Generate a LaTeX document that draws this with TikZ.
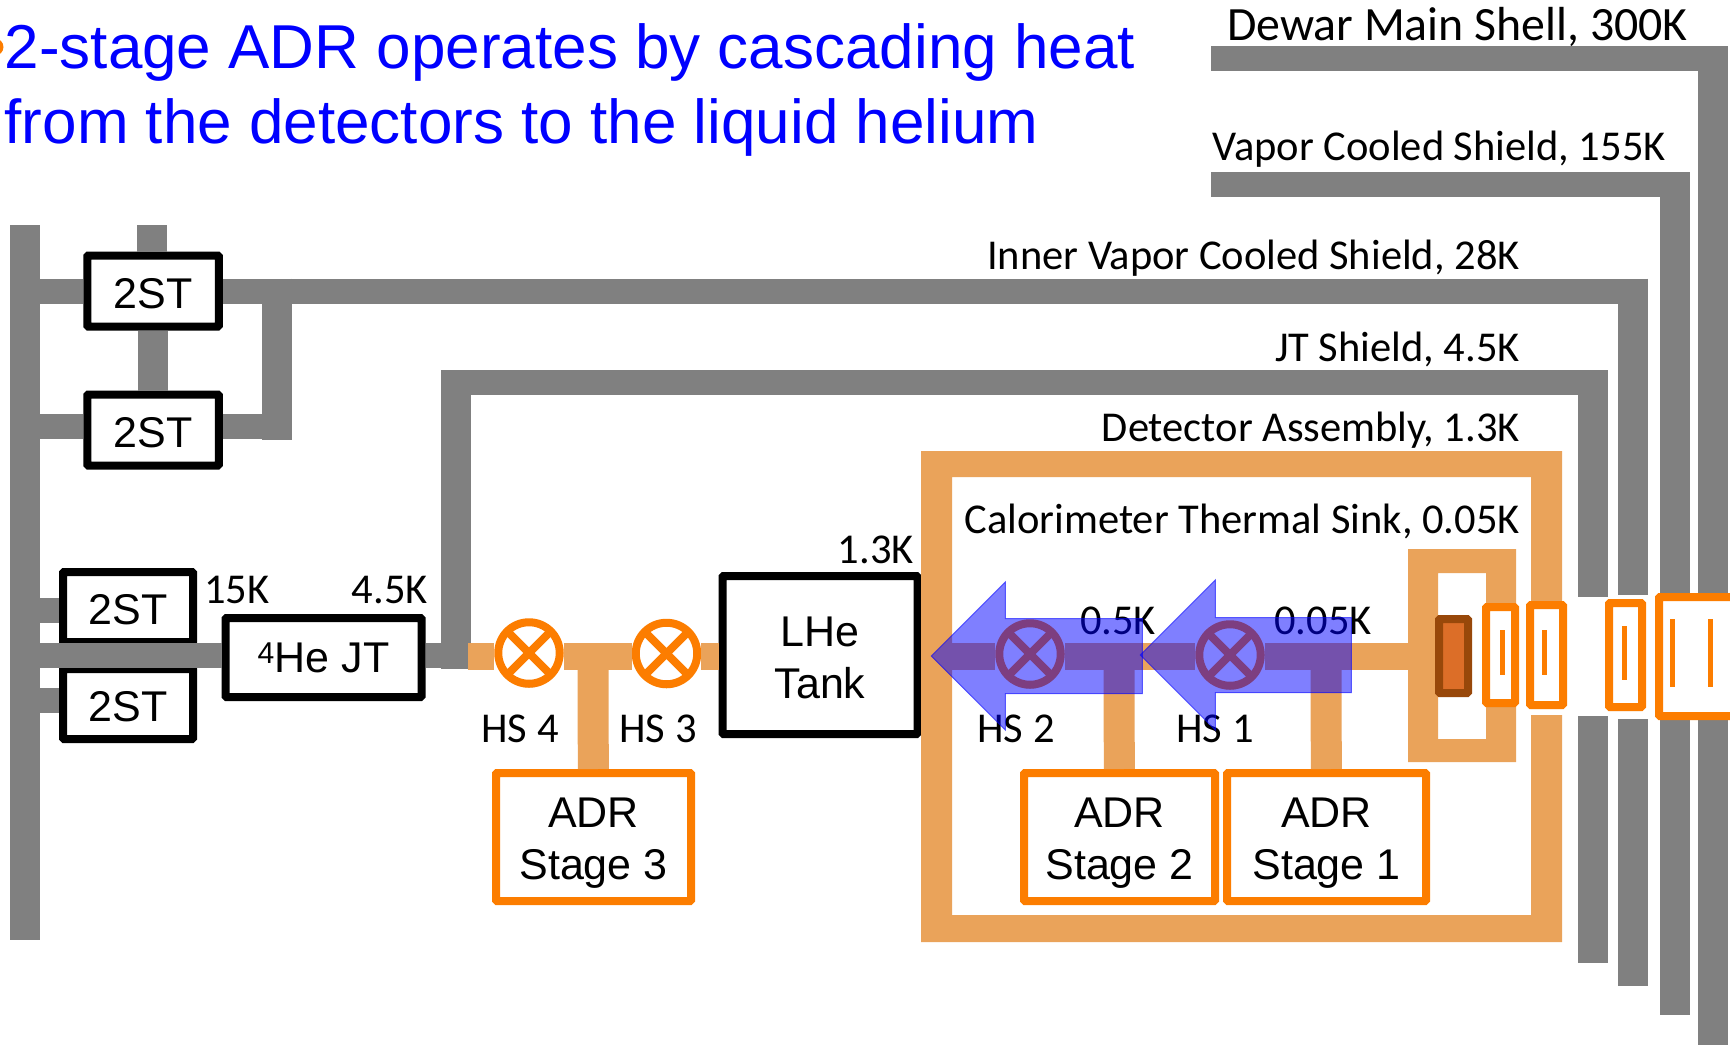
\documentclass[tikz,border=0pt]{standalone}
\usepackage{fontspec}
\setmainfont{Carlito}
\newfontfamily\arialfont{Liberation Sans}
\usetikzlibrary{shapes.arrows,shadows}
\definecolor{pipegray}{HTML}{808080}
\definecolor{pipeorange}{HTML}{EAA35A}
\definecolor{boxorange}{HTML}{FC7D00}
\definecolor{heatblue}{HTML}{0000FF}
\definecolor{chipfill}{HTML}{DC6E28}
\definecolor{chipline}{HTML}{98480A}
\newcommand{\labelstrut}[1]{\rule{0pt}{#1pt}}
\tikzset{
    hpipe/.style={draw=pipegray,line width=25pt},
    vpipe/.style={draw=pipegray,line width=30pt},
    hcopper/.style={draw=pipeorange,line width=26.5pt},
    vcopper/.style={draw=pipeorange,line width=31pt},
    blackbox/.style={draw=black,fill=white,line width=8pt,rounded corners=1pt,inner sep=0pt,
        font=\arialfont\fontsize{43}{52}\selectfont,align=center},
    adrbox/.style={draw=boxorange,fill=white,line width=8pt,rounded corners=1pt,inner sep=0pt,
        minimum height=128pt,font=\arialfont\fontsize{43}{52}\selectfont,align=center},
    valve/.style={draw=boxorange,fill=white,circle,line width=8pt,minimum size=61.5pt,inner sep=0pt,
        drop shadow={shadow xshift=0pt,shadow yshift=-4pt,opacity=.25},
        path picture={
            \draw[boxorange,line width=8pt] (path picture bounding box.north west) -- (path picture bounding box.south east);
            \draw[boxorange,line width=8pt] (path picture bounding box.north east) -- (path picture bounding box.south west);
        }},
    windowbox/.style={draw=boxorange,fill=white,line width=8pt,rounded corners=1pt,inner sep=0pt,
        drop shadow={shadow xshift=0pt,shadow yshift=-4pt,opacity=.2}},
    bolt/.style={draw=boxorange,line width=5pt},
    heat/.style={single arrow,shape border rotate=180,single arrow tip angle=90,inner sep=0pt,
        text height=74pt,text depth=0pt,
        fill=heatblue,fill opacity=.5,draw=heatblue,draw opacity=.6,line width=1pt},
    lab/.style={font=\fontsize{42.5}{50}\selectfont,inner sep=0pt},
}
\begin{document}
\begin{tikzpicture}[x=1pt,y=-1pt]
    \path[use as bounding box,clip] (0,0) rectangle (1730,1045);
    % heading
    \node (bullet) [circle,fill=boxorange,inner sep=0pt,minimum size=17pt] at (-5,47) {};
    \node (title) [anchor=base west,align=left,inner sep=0pt,text=heatblue,
        font=\arialfont\fontsize{62}{75}\selectfont] at (4.5,143)
        {2-stage ADR operates by cascading heat\\from the detectors to the liquid helium};
    % shields
    \coordinate (dewarA) at (1211,58);
    \coordinate (dewarB) at (1728,58);
    \coordinate (dewarC) at (1712.5,46);
    \coordinate (dewarD) at (1712.5,600);
    \coordinate (dewarE) at (1712.5,716);
    \coordinate (dewarF) at (1712.5,1045);
    \draw[hpipe] (dewarA) -- (dewarB);
    \draw[vpipe] (dewarC) -- (dewarD);
    \draw[vpipe] (dewarE) -- (dewarF);
    \coordinate (vcsA) at (1211,184.5);
    \coordinate (vcsB) at (1689,184.5);
    \coordinate (vcsC) at (1674.5,172);
    \coordinate (vcsD) at (1674.5,600);
    \coordinate (vcsE) at (1674.5,716);
    \coordinate (vcsF) at (1674.5,1015);
    \draw[hpipe] (vcsA) -- (vcsB);
    \draw[vpipe] (vcsC) -- (vcsD);
    \draw[vpipe] (vcsE) -- (vcsF);
    \coordinate (ivcsB) at (1648,291);
    \coordinate (ivcsC) at (1633,278.5);
    \coordinate (ivcsD) at (1633,595);
    \coordinate (ivcsE) at (1633,719);
    \coordinate (ivcsF) at (1633,986);
    \draw[vpipe] (ivcsC) -- (ivcsD);
    \draw[vpipe] (ivcsE) -- (ivcsF);
    \coordinate (jtsA) at (456,370);
    \coordinate (jtsB) at (441,382.5);
    \coordinate (jtsC) at (1608,382.5);
    \coordinate (jtsD) at (1593,370);
    \coordinate (jtsE) at (1593,597);
    \coordinate (jtsF) at (1593,716);
    \coordinate (jtsG) at (1593,963);
    \coordinate (jtsH) at (456,669);
    \draw[hpipe] (jtsB) -- (jtsC);
    \draw[vpipe] (jtsA) -- (jtsH);
    \draw[vpipe] (jtsD) -- (jtsE);
    \draw[vpipe] (jtsF) -- (jtsG);
    % cryocoolers on the left
    \node (st1) [blackbox,minimum width=131.5pt,minimum height=71pt] at (153,291) {\labelstrut{36}2ST};
    \node (st2) [blackbox,minimum width=131.5pt,minimum height=71pt] at (153,430) {\labelstrut{35}2ST};
    \node (st3) [blackbox,minimum width=130pt,minimum height=70pt] at (128,607) {\labelstrut{35}2ST};
    \node (st4) [blackbox,minimum width=130pt,minimum height=70pt] at (128,704) {\labelstrut{36}2ST};
    \node (jt) [blackbox,minimum width=196pt,minimum height=79pt] at (323.5,657.5) {\textsuperscript{4}He JT};
    \coordinate (barT) at (25,225);
    \coordinate (barB) at (25,940);
    \coordinate (stubT) at (152,225);
    \coordinate (linkT) at (277,278.5);
    \coordinate (linkB) at (277,440);
    \coordinate (p2) at (25,426.5);
    \coordinate (p2r) at (292,426.5);
    \coordinate (p3) at (25,610.5);
    \coordinate (p4) at (25,700.5);
    \coordinate (p5) at (25,655.5);
    \draw[vpipe] (barT) -- (barB);
    \draw[vpipe] (stubT) -- (stubT |- st1.north);
    \draw[vpipe] (st1) -- (st2);
    \draw[hpipe] (st1 -| barT) -- (st1);
    \draw[hpipe] (st1) -- (ivcsB);
    \draw[vpipe] (linkT) -- (linkB);
    \draw[hpipe] (p2) -- (p2 -| st2.west);
    \draw[hpipe] (p2 -| st2.east) -- (p2r);
    \draw[hpipe] (p3) -- (p3 -| st3.west);
    \draw[hpipe] (p4) -- (p4 -| st4.west);
    \draw[hpipe] (p5) -- (p5 -| jt.west);
    \draw[hpipe] (p5 -| jt.east) -- (p5 -| jtsA);
    % helium tank, switches and stages
    \node (tank) [blackbox,minimum width=195pt,minimum height=158pt] at (820,655) {\labelstrut{36}LHe\\Tank};
    \node (hs4) [valve] at (529,653) {};
    \node (hs3) [valve] at (666.5,653.5) {};
    \node (hs2) [valve] at (1030,654) {};
    \node (hs1) [valve] at (1230,655) {};
    \node (adr3) [adrbox,minimum width=195pt] at (593.5,837) {\labelstrut{42}ADR\\Stage 3};
    \node (adr2) [adrbox,minimum width=191pt] at (1119.5,837) {\labelstrut{42}ADR\\Stage 2};
    \node (adr1) [adrbox,minimum width=199pt] at (1326.5,837) {\labelstrut{42}ADR\\Stage 1};
    \coordinate (busA) at (468,656.5);
    \coordinate (busB) at (1408,656.5);
    \coordinate (tee3) at (593,656.5);
    \coordinate (tee2) at (1119,656.5);
    \coordinate (tee1) at (1326,656.5);
    \fill[pipeorange] (1562,601) -- (1562,451) -- (921,451) -- (921,942) -- (1562,942) -- (1562,715)
        -- (1531,715) -- (1531,915) -- (952,915) -- (952,477) -- (1531,477) -- (1531,601) -- cycle;
    \fill[pipeorange,even odd rule] (1408,549) rectangle (1516,762) (1438,573) rectangle (1486,739);
    \draw[hcopper] (busA) -- (busA -| hs4.west);
    \draw[hcopper] (busA -| hs4.east) -- (busA -| hs3.west);
    \draw[hcopper] (busA -| hs3.east) -- (busA -| tank.west);
    \draw[hcopper] (busA -| tank.east) -- (busA -| hs2.west);
    \draw[hcopper] (busA -| hs2.east) -- (busA -| hs1.west);
    \draw[hcopper] (busA -| hs1.east) -- (busB);
    \draw[vcopper] (tee3) -- (adr3);
    \draw[vcopper] (tee2) -- (adr2);
    \draw[vcopper] (tee1) -- (adr1);
    % detector stack
    \node (chip) [draw=chipline,fill=chipfill,line width=8pt,rounded corners=1pt,
        minimum width=29pt,minimum height=74pt,inner sep=0pt] at (1453.5,656) {};
    \node (win1) [windowbox,minimum width=29pt,minimum height=96pt] at (1500.5,655) {};
    \node (win2) [windowbox,minimum width=33pt,minimum height=100pt] at (1546.5,655) {};
    \node (win3) [windowbox,minimum width=33pt,minimum height=104pt] at (1625.5,655) {};
    \node (win4) [windowbox,minimum width=100pt,minimum height=119pt] at (1709,656.5) {};
    \draw[bolt] (1502,630) -- (1502,675);
    \draw[bolt] (1544,630) -- (1544,675);
    \draw[bolt] (1624,626) -- (1624,680);
    \draw[bolt] (1672,619) -- (1672,687);
    \draw[bolt] (1710,619) -- (1710,687);
    % labels
    \node (l300) [lab,anchor=base east,font=\fontsize{47.8}{50}\selectfont] at (1688,40) {Dewar Main Shell, 300K};
    \node (l155) [lab,anchor=base east] at (1666,160) {Vapor Cooled Shield, 155K};
    \node (l28) [lab,anchor=base east] at (1520,269) {Inner Vapor Cooled Shield, 28K};
    \node (l45) [lab,anchor=base east] at (1520,361) {JT Shield, 4.5K};
    \node (l13) [lab,anchor=base east] at (1520,441) {Detector Assembly, 1.3K};
    \node (l005) [lab,anchor=base east] at (1520,533) {Calorimeter Thermal Sink, 0.05K};
    \node (ltank) [lab,anchor=base east] at (914,563) {1.3K};
    \node (l15) [lab,anchor=base west] at (204,603) {15K};
    \node (ljt) [lab,anchor=base east] at (428,603) {4.5K};
    \node (lhs4) [lab,anchor=base] at (520,742) {HS 4};
    \node (lhs3) [lab,anchor=base] at (658,742) {HS 3};
    \node (lhs2) [lab,anchor=base] at (1016,742) {HS 2};
    \node (lhs1) [lab,anchor=base] at (1215,742) {HS 1};
    \node (l05) [lab,anchor=base] at (1118,634) {0.5K};
    \node (l05b) [lab,anchor=base] at (1323,634) {0.05K};
    % heat flow
    \node (heat2) [heat,minimum height=211pt,minimum width=147pt,single arrow head extend=36.5pt] at (1055.5,656) {};
    \node (heat1) [heat,minimum height=211pt,minimum width=149pt,single arrow head extend=37.5pt] at (1264.5,655) {};
\end{tikzpicture}
\end{document}
